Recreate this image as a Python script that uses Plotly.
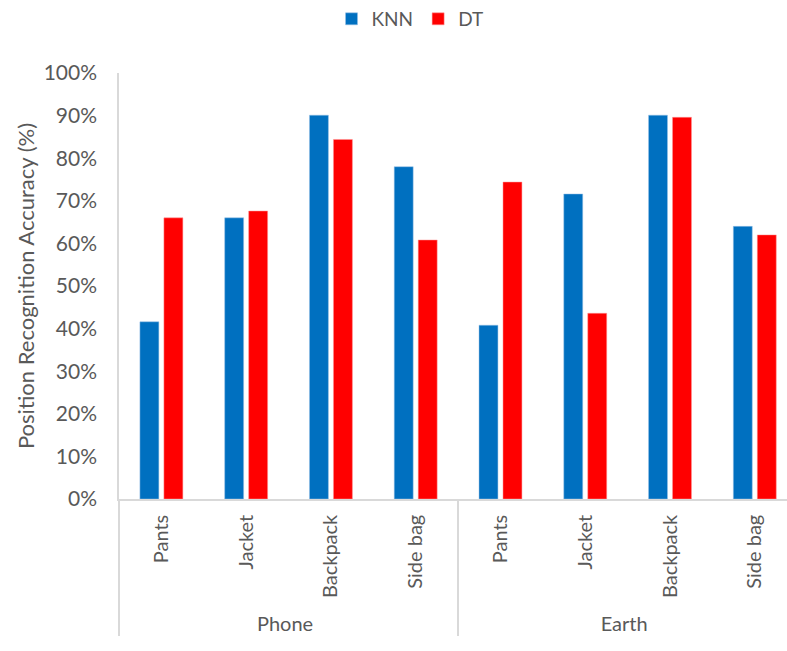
import plotly.graph_objects as go

groups = ["Phone"] * 4 + ["Earth"] * 4
positions = ["Pants", "Jacket", "Backpack", "Side bag"] * 2
knn = [0.416, 0.660, 0.901, 0.780, 0.408, 0.716, 0.901, 0.640]
dt = [0.660, 0.676, 0.844, 0.608, 0.744, 0.436, 0.896, 0.620]
y_ticks = [0, 0.1, 0.2, 0.3, 0.4, 0.5, 0.6, 0.7, 0.8, 0.9, 1.0]

FONT = "Lato"
GREY = "#595959"
LINE = "#d9d9d9"

fig = go.Figure()
fig.add_trace(go.Bar(x=[groups, positions], y=knn, name="KNN",
                     marker=dict(color="#0070c0", line=dict(color="#9dc3e6", width=0.5))))
fig.add_trace(go.Bar(x=[groups, positions], y=dt, name="DT",
                     marker=dict(color="#ff0000", line=dict(color="#ff9999", width=0.5))))

fig.update_layout(
    width=787, height=651,
    margin=dict(l=119, r=0, t=73, b=152),
    paper_bgcolor="white", plot_bgcolor="white",
    font=dict(family=FONT, color=GREY, size=20),
    barmode="group", bargap=0.434, bargroupgap=0.21,
    showlegend=True,
    legend=dict(orientation="h", x=0.521, xref="container", xanchor="center",
                y=1.0, yref="container", yanchor="top",
                font=dict(size=19, color=GREY), itemwidth=30, traceorder="normal"),
)
fig.update_yaxes(range=[0, 1], tickvals=y_ticks, tickformat=".0%",
                 showgrid=False, showline=True, linecolor=LINE, linewidth=1.5,
                 zeroline=False, ticks="", ticklabelstandoff=16,
                 tickfont=dict(size=21, color=GREY),
                 title=dict(text="Position Recognition Accuracy (%)", font=dict(size=22, color=GREY), standoff=3))
fig.update_xaxes(type="multicategory", range=[-0.5, 7.38],
                 showline=True, linecolor=LINE, linewidth=1.5,
                 showgrid=False, ticks="", tickangle=-90, ticklabelstandoff=6,
                 showdividers=True, dividercolor=LINE, dividerwidth=1.5,
                 tickfont=dict(size=20, color=GREY))

fig.write_html("out.html")
